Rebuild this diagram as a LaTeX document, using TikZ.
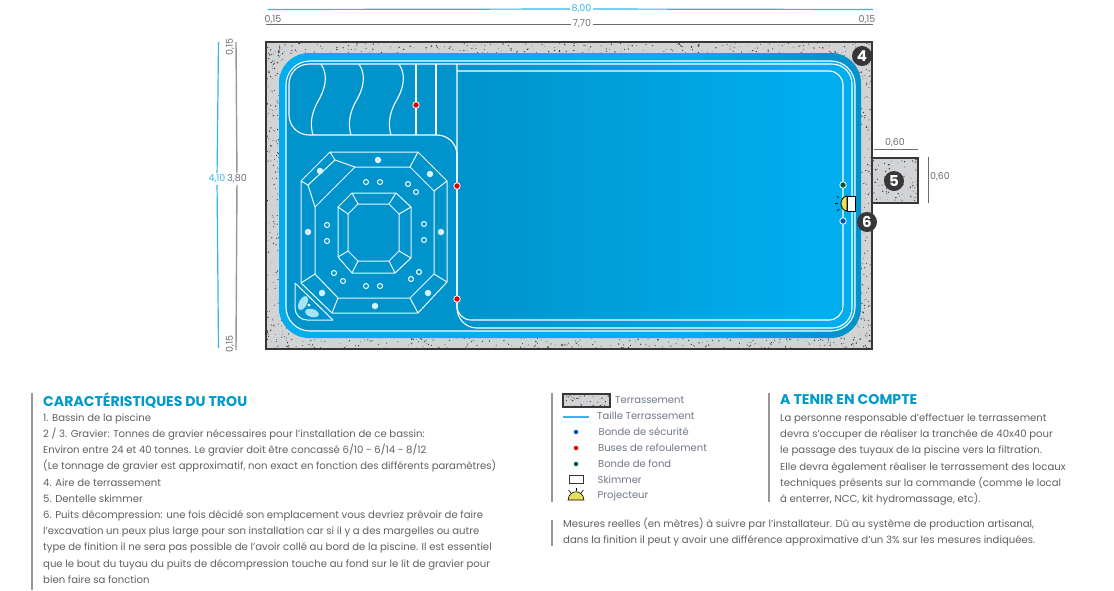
\documentclass[tikz,border=0pt]{standalone}
\usepackage{fontspec}
\setmainfont{Poppins}
\usepackage{tikz}
\definecolor{poolbright}{HTML}{00AEEF}
\definecolor{pooldeep}{HTML}{0093CC}
\definecolor{terrain}{HTML}{D1D3D4}
\definecolor{edgedark}{HTML}{37373A}
\definecolor{headblue}{HTML}{0099CC}
\definecolor{bodygrey}{HTML}{5F6062}
\definecolor{dimgrey}{HTML}{6A6C70}
\definecolor{legendgrey}{HTML}{6E7886}
\definecolor{barblue}{HTML}{35B6EA}
\definecolor{bargrey}{HTML}{97979B}
\definecolor{lampyellow}{HTML}{E7E05A}
\pgfdeclarehorizontalshading{bandshade}{100bp}{color(0bp)=(poolbright); color(60bp)=(poolbright); color(72bp)=(pooldeep); color(100bp)=(pooldeep)}
\pgfdeclarehorizontalshading{floorshade}{100bp}{color(0bp)=(pooldeep); color(40bp)=(pooldeep); color(72bp)=(poolbright); color(100bp)=(poolbright)}
\tikzset{speck/.style={fill=black!80}}
\tikzset{poolline/.style={draw=white,line width=1.1pt}}
\tikzset{spaline/.style={draw=white!92!poolbright,line width=1pt,line join=round}}
\tikzset{jet/.style={draw=none,circle,fill=white!85!poolbright,inner sep=0pt,minimum size=6.5pt}}
\tikzset{ringjet/.style={draw=white,circle,line width=1pt,fill=pooldeep,inner sep=0pt,minimum size=5pt}}
\tikzset{nozzle/.style={draw=white,circle,line width=.8pt,inner sep=0pt,minimum size=6.5pt}}
\tikzset{badge/.style={circle,fill=edgedark,text=white,font=\fontsize{15}{15}\selectfont\bfseries,inner sep=0pt,minimum size=20pt}}
\tikzset{dimlabel/.style={text=dimgrey,font=\fontsize{9.5}{10}\selectfont,inner sep=1.5pt}}
\tikzset{bluelabel/.style={text=barblue,font=\fontsize{9.5}{10}\selectfont,inner sep=1.5pt}}
\tikzset{bluedim/.style={draw=barblue,line width=1.2pt}}
\tikzset{greydim/.style={draw=dimgrey,line width=1pt}}
\tikzset{sidebar/.style={draw=bargrey,line width=1.6pt}}
\tikzset{headtext/.style={anchor=west,text=headblue,font=\fontsize{14.1}{15}\selectfont\bfseries,inner sep=0pt}}
\tikzset{bodytext/.style={anchor=north west,align=left,text=bodygrey,font=\fontsize{10.1}{16.2}\selectfont,inner sep=0pt}}
\tikzset{legendtext/.style={anchor=west,text=legendgrey,font=\fontsize{10}{12}\selectfont,inner sep=0pt}}
\tikzset{legenddot/.style={circle,inner sep=0pt,minimum size=4.5pt}}

\begin{document}
\begin{tikzpicture}[x=1pt,y=-1pt]
    \useasboundingbox (0,0) rectangle (1114,590);

    \fill[terrain] (266,42) rectangle (872,349);
    \fill[terrain] (872,158) rectangle (918,203);
    \fill[terrain] (563,394) rectangle (610,407);
    \pgfmathsetseed{41}
    \foreach \xa/\ya/\w/\h/\n in {266/42/606/12/260,266/338/606/11/260,266/54/14/284/150,861/54/11/284/120,266/42/34/34/35,838/42/34/34/35,266/315/34/34/35,838/315/34/34/35,873/159/45/44/80,564/395/46/12/40}{
      \foreach \i in {1,...,\n}{
        \fill[speck] ({\xa+\w*rnd},{\ya+\h*rnd}) circle ({0.25+0.5*rnd});
      }
    }
    \draw[edgedark,line width=2pt] (266,42) rectangle (872,349);
    \draw[edgedark,line width=1.2pt] (872,158) -- (918,158) -- (918,203) -- (872,203);
    \draw[edgedark,line width=1.4pt] (563,394) rectangle (610,407);

    % pool shell and floor
    \shade[shading=bandshade,rounded corners=30pt] (279,53) rectangle (861,338);
    \shade[shading=floorshade,rounded corners=24pt] (286,61) rectangle (855,331);
    \draw[poolline,rounded corners=24pt] (286,61) rectangle (855,331);
    \draw[poolline,rounded corners=20pt] (457,200) -- (457,328) -- (852,328) -- (852,64) -- (289,64) -- (289,135) -- (457,135) -- cycle;
    \draw[poolline,rounded corners=14pt] (457,64) -- (457,320) -- (843,320) -- (843,71) -- (457,71);

    % steps
    \draw[poolline] (416,64) -- (416,135);
    \draw[poolline] (436,64) -- (436,135);
    \foreach \x in {321,359,399}{
      \draw[poolline] (\x,64) .. controls ({\x+8},76) and ({\x+4},90) .. ({\x-4},103) .. controls ({\x-10},115) and ({\x-11},125) .. ({\x-8},135);
    }

    % spa benches
    \draw[spaline] (330,152) -- (418,152) -- (447,181) -- (447,282) -- (418,313) -- (332,313) -- (301,283) -- (301,181) -- cycle;
    \draw[spaline] (355,167) -- (410,167) -- (434,191) -- (434,274) -- (410,298) -- (338,298) -- (315,274) -- (315,207) -- cycle;
    \foreach \xa/\ya/\xb/\yb in {418/152/410/167,447/181/434/191,447/282/434/274,418/313/410/298,332/313/338/298,301/283/315/274}{
      \draw[spaline] (\xa,\ya) -- (\xb,\yb);
    }
    \draw[spaline] (330,152) -- (335,160) -- (355,167);
    \draw[spaline] (301,181) -- (308,185) -- (315,207);
    \draw[spaline] (308,185) -- (335,160);
    \draw[spaline] (352,193) -- (396,193) -- (411,207) -- (411,258) -- (395,273) -- (352,273) -- (338,257) -- (338,207) -- cycle;
    \draw[spaline] (358,204) -- (389,204) -- (399,214) -- (399,251) -- (389,261) -- (358,261) -- (348,251) -- (348,214) -- cycle;
    \foreach \xa/\ya/\xb/\yb in {352/193/358/204,396/193/389/204,411/207/399/214,411/258/399/251,395/273/389/261,352/273/358/261,338/257/348/251,338/207/348/214}{
      \draw[spaline] (\xa,\ya) -- (\xb,\yb);
    }

    % lounger
    \draw[spaline,rounded corners=12pt] (295,283) -- (295,320) -- (333,320);
    \draw[spaline] (295,283) -- (333,320);
    \fill[white!65!poolbright,rotate around={62:(303,303)}] (303,303) ellipse (7.5 and 4);
    \fill[white!65!poolbright,rotate around={-15:(312,313)}] (312,313) ellipse (7 and 4);
    \fill[white] (309,305) circle (1.5);

    \foreach \x/\y in {378/160,320/171,430/174,308/232,441/232,322/293,428/293,375/306}{
      \node[jet] at (\x,\y) {};
    }
    \foreach \x/\y in {366/182,380/182,408/184,416/192,424/224,424/240,419/272,411/279,380/286,366/286,343/281,334/273,327/241,327/225}{
      \node[ringjet] at (\x,\y) {};
    }
    \foreach \x/\y in {416/105,457/186,457/299}{
      \node[nozzle,fill=red!90!black] at (\x,\y) {};
    }
    \node[nozzle,fill=green!45!black!80!blue] (bondefond) at (843,185) {};
    \node[nozzle,fill=blue!60!cyan!80!black] (bondesecu) at (843,221) {};

    % skimmer and lamp
    \draw[black,fill=white,line width=.8pt] (847,196) rectangle (855,211);
    \draw[black,fill=lampyellow,line width=.8pt] (847,196) .. controls (839,197) and (839,210) .. (847,211) -- cycle;
    \draw[black,line width=.6pt] (837,196) -- (839,198);
    \draw[black,line width=.6pt] (835,203.5) -- (838,203.5);
    \draw[black,line width=.6pt] (837,211) -- (839.5,209);

    \node[badge] (four) at (862,56) {4};
    \node[badge] (five) at (894,181) {5};
    \node[badge] (six) at (867,222) {6};

    % dimensions
    \coordinate (topL) at (268,9.5);
    \coordinate (topR) at (873,9.5);
    \coordinate (midL) at (266,24);
    \coordinate (midR) at (873,24);
    \node[bluelabel] (total) at (581.5,9) {8,00};
    \node[dimlabel] (inner) at (582,24) {7,70};
    \draw[bluedim] (topL) -- (total);
    \draw[bluedim] (total) -- (topR);
    \draw[greydim] (midL) -- (inner);
    \draw[greydim] (inner) -- (midR);
    \node[dimlabel] (lipL) at (273,19.5) {0,15};
    \node[dimlabel] (lipR) at (867,19.5) {0,15};

    \coordinate (sideAt) at (218.5,42);
    \coordinate (sideAb) at (218.5,348);
    \coordinate (sideBt) at (236,42);
    \coordinate (sideBb) at (236,350);
    \node[bluelabel] (height) at (217,179) {4,10};
    \node[dimlabel] (innerh) at (237,179) {3,80};
    \draw[bluedim] (sideAt) -- (height);
    \draw[bluedim] (height) -- (sideAb);
    \draw[draw=bargrey,line width=1.4pt] (sideBt) -- (innerh);
    \draw[draw=bargrey,line width=1.4pt] (innerh) -- (sideBb);
    \node[dimlabel,rotate=90] (lipT) at (230,47) {0,15};
    \node[dimlabel,rotate=90] (lipB) at (230,344) {0,15};

    \coordinate (boxL) at (874,149);
    \coordinate (boxR) at (918,149);
    \coordinate (boxT) at (928,157);
    \coordinate (boxB) at (928,203);
    \draw[greydim] (boxL) -- (boxR);
    \draw[greydim] (boxT) -- (boxB);
    \node[dimlabel] (boxw) at (895,143) {0,60};
    \node[dimlabel] (boxh) at (940,177) {0,60};

    % left column
    \coordinate (barAt) at (32,393);
    \coordinate (barAb) at (32,590);
    \draw[sidebar] (barAt) -- (barAb);
    \node[headtext] (carac) at (43,400) {CARACTÉRISTIQUES DU TROU};
    \node[bodytext] (caractxt) at (43,413.5) {1. Bassin de la piscine\\
      2 / 3. Gravier: Tonnes de gravier nécessaires pour l’installation de ce bassin:\\
      Environ entre 24 et 40 tonnes. Le gravier doit être concassé 6/10 - 6/14 - 8/12\\
      (Le tonnage de gravier est approximatif, non exact en fonction des différents paramètres)\\
      4. Aire de terrassement\\
      5. Dentelle skimmer\\
      6. Puits décompression: une fois décidé son emplacement vous devriez prévoir de faire\\
      l’excavation un peux plus large pour son installation car si il y a des margelles ou autre\\
      type de finition il ne sera pas possible de l’avoir collé au bord de la piscine. Il est essentiel\\
      que le bout du tuyau du puits de décompression touche au fond sur le lit de gravier pour\\
      bien faire sa fonction};

    % legend
    \coordinate (barBt) at (552,393);
    \coordinate (barBb) at (552,502);
    \draw[sidebar] (barBt) -- (barBb);
    \node[legendtext] (legterr) at (615,400) {Terrassement};
    \coordinate (legA) at (563,417);
    \coordinate (legB) at (589,417);
    \draw[bluedim] (legA) -- (legB);
    \node[legendtext] (legsize) at (597,416) {Taille Terrassement};
    \node[legenddot,fill=blue!60!cyan!80!black] (dotsecu) at (576,432) {};
    \node[legendtext] (legsecu) at (598.5,432) {Bonde de sécurité};
    \node[legenddot,fill=red!90!black] (dotbuse) at (576,448) {};
    \node[legendtext] (legbuse) at (598,448) {Buses de refoulement};
    \node[legenddot,fill=green!45!black!80!blue] (dotfond) at (576,464) {};
    \node[legendtext] (legfond) at (598,464) {Bonde de fond};
    \draw[black!80,line width=.7pt] (569,475.5) rectangle (583,483.5);
    \node[legendtext] (legskim) at (597.5,480) {Skimmer};
    \draw[black,fill=lampyellow,line width=.6pt] (568,500) .. controls (569,489) and (583,489) .. (584,500) -- cycle;
    \draw[black,line width=.6pt] (568.5,490) -- (571,493);
    \draw[black,line width=.6pt] (576,488) -- (576,490.5);
    \draw[black,line width=.6pt] (583.5,490) -- (581,493);
    \node[legendtext] (legproj) at (597.5,496) {Projecteur};

    % right column
    \coordinate (barCt) at (769,393);
    \coordinate (barCb) at (769,502);
    \draw[sidebar] (barCt) -- (barCb);
    \node[headtext] (tenir) at (780,400) {A TENIR EN COMPTE};
    \node[bodytext] (tenirtxt) at (780,413.5) {La personne responsable d’effectuer le terrassement\\
      devra s’occuper de réaliser la tranchée de 40x40 pour\\
      le passage des tuyaux de la piscine vers la filtration.\\
      Elle devra ègalement réaliser le terrassement des locaux\\
      techniques présents sur la commande (comme le local\\
      à enterrer, NCC, kit hydromassage, etc).};

    \coordinate (barDt) at (552,520);
    \coordinate (barDb) at (552,546);
    \draw[sidebar] (barDt) -- (barDb);
    \node[bodytext] (mesures) at (563,518) {Mesures reelles (en mètres) à suivre par l’installateur. Dû au système de production artisanal,\\
      dans la finition il peut y avoir une différence approximative d’un 3\% sur les mesures indiquées.};

\end{tikzpicture}
\end{document}
